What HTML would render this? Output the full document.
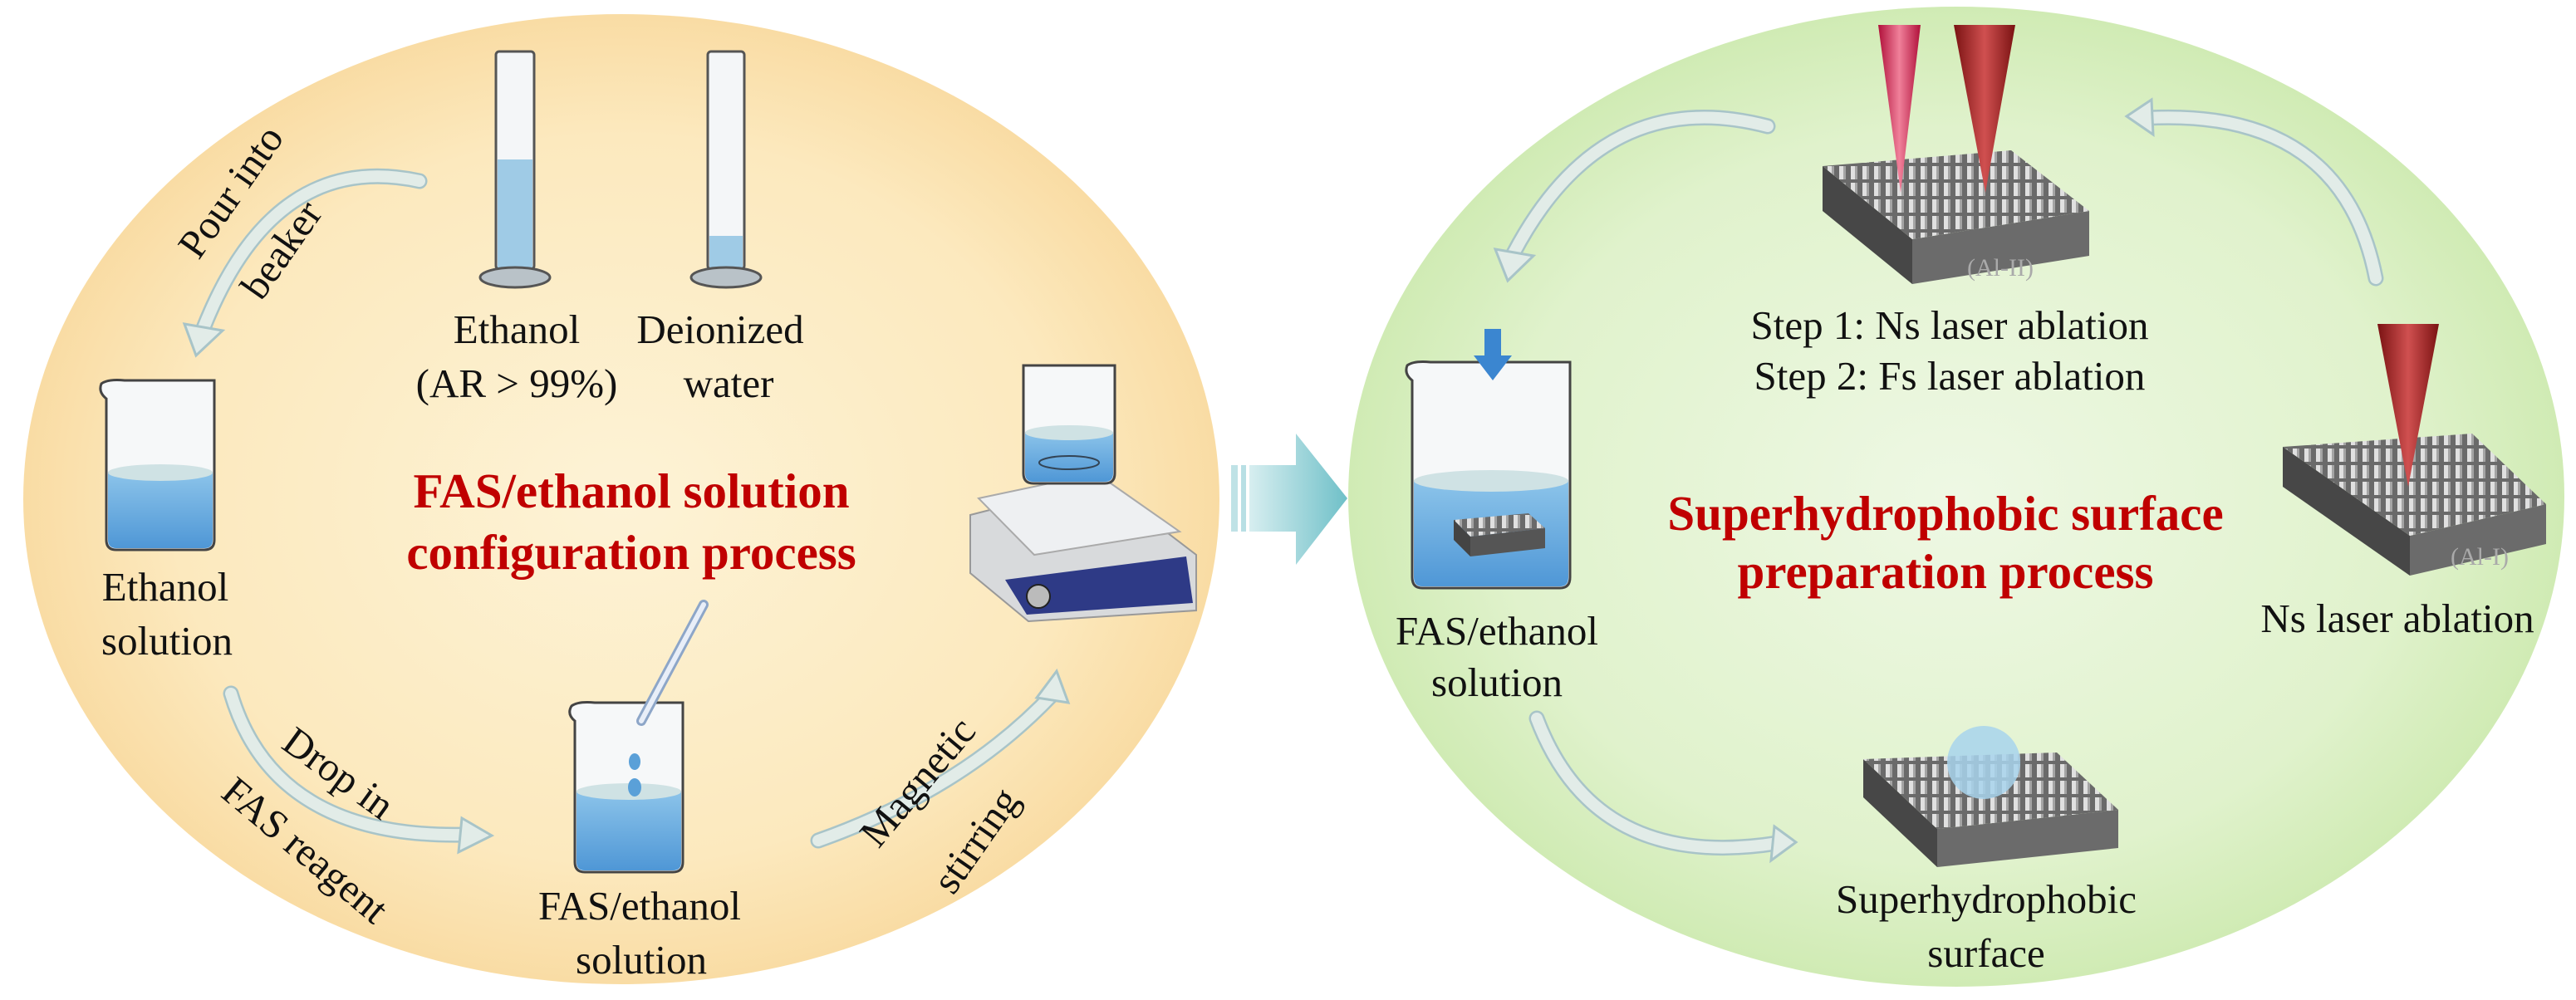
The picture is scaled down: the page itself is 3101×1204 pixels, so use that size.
<!DOCTYPE html>
<html><head><meta charset="utf-8"><style>
html,body{margin:0;padding:0;background:#fff;}
svg{display:block;}
text{font-family:"Liberation Serif",serif;}
</style></head><body>
<svg width="3101" height="1204" viewBox="0 0 3101 1204" xmlns="http://www.w3.org/2000/svg">
<defs>
<radialGradient id="gl" cx="0.5" cy="0.5" r="0.5">
<stop offset="0" stop-color="#fdf3d6"/><stop offset="0.75" stop-color="#fce9be"/><stop offset="1" stop-color="#f9dca4"/>
</radialGradient>
<radialGradient id="gr" cx="0.5" cy="0.5" r="0.5">
<stop offset="0" stop-color="#eef8e4"/><stop offset="0.75" stop-color="#e0f2cc"/><stop offset="1" stop-color="#d0ebb4"/>
</radialGradient>
<linearGradient id="ga" x1="0" y1="0" x2="1" y2="0">
<stop offset="0" stop-color="#d7eef0"/><stop offset="1" stop-color="#6fc0c8"/>
</linearGradient>
<linearGradient id="liq" x1="0" y1="0" x2="0" y2="1">
<stop offset="0" stop-color="#8cc4ea"/><stop offset="1" stop-color="#4f97d6"/>
</linearGradient>
<linearGradient id="laserR" x1="0" y1="0" x2="1" y2="0">
<stop offset="0" stop-color="#7a1212"/><stop offset="0.5" stop-color="#d05050"/><stop offset="1" stop-color="#7a1212"/>
</linearGradient>
<linearGradient id="laserP" x1="0" y1="0" x2="1" y2="0">
<stop offset="0" stop-color="#b0103a"/><stop offset="0.5" stop-color="#f0809a"/><stop offset="1" stop-color="#b0103a"/>
</linearGradient>
<pattern id="pil" width="14" height="20" patternUnits="userSpaceOnUse">
<rect width="14" height="20" fill="#6a6a6a"/>
<rect x="2" y="0" width="5" height="16" fill="#e0e0e0"/>
<rect x="7" y="0" width="3" height="16" fill="#a4a4a4"/>
</pattern>
</defs>

<ellipse cx="748" cy="601" rx="720" ry="584" fill="url(#gl)"/>
<ellipse cx="2355" cy="598" rx="732" ry="590" fill="url(#gr)"/>

<!-- center arrow -->
<g>
<rect x="1482" y="560" width="8" height="80" fill="#bfe2e6"/>
<rect x="1494" y="560" width="6" height="80" fill="#b8dfe4"/>
<polygon points="1504,560 1560,560 1560,522 1622,600 1560,680 1560,640 1504,640" fill="url(#ga)"/>
</g>

<!-- curved arrows -->
<g fill="none" stroke-linecap="round">
<g stroke="#a8c4c8" stroke-width="19">
<path d="M505,218 Q330,180 245,395"/>
<path d="M278,835 Q330,1010 560,1005"/>
<path d="M985,1012 Q1160,950 1268,835"/>
<path d="M2128,152 Q1930,100 1822,305"/>
<path d="M2860,335 Q2820,130 2585,142"/>
<path d="M1850,865 Q1920,1050 2140,1015"/>
</g>
<g stroke="#e2ece8" stroke-width="14">
<path d="M505,218 Q330,180 245,395"/>
<path d="M278,835 Q330,1010 560,1005"/>
<path d="M985,1012 Q1160,950 1268,835"/>
<path d="M2128,152 Q1930,100 1822,305"/>
<path d="M2860,335 Q2820,130 2585,142"/>
<path d="M1850,865 Q1920,1050 2140,1015"/>
</g>
</g>
<g fill="#e2ece8" stroke="#a8c4c8" stroke-width="3">
<polygon points="222,390 268,398 236,428"/>
<polygon points="556,985 592,1006 552,1026"/>
<polygon points="1248,840 1272,808 1286,846"/>
<polygon points="1800,300 1846,308 1815,338"/>
<polygon points="2590,120 2560,140 2592,162"/>
<polygon points="2136,995 2162,1014 2132,1036"/>
</g>

<!-- graduated cylinders -->
<g stroke="#555" stroke-width="3">
<rect x="597" y="62" width="46" height="262" rx="4" fill="#f4f6f8"/>
<rect x="599" y="192" width="42" height="130" fill="#9fcbe6" stroke="none"/>
<ellipse cx="620" cy="334" rx="42" ry="12" fill="#b9c2c8"/>
<rect x="852" y="62" width="44" height="262" rx="4" fill="#f4f6f8"/>
<rect x="854" y="284" width="40" height="38" fill="#9fcbe6" stroke="none"/>
<ellipse cx="874" cy="334" rx="42" ry="12" fill="#b9c2c8"/>
</g>

<!-- beakers left -->
<g stroke="#444" stroke-width="3">
<path d="M122,462 Q130,456 150,458 L258,458 L258,650 Q258,662 246,662 L140,662 Q128,662 128,650 L128,480 Q118,472 122,462Z" fill="#f6f8f9"/>
<path d="M130,568 L256,568 L256,650 Q256,660 246,660 L140,660 Q130,660 130,650Z" fill="url(#liq)" stroke="none"/>
<ellipse cx="193" cy="569" rx="63" ry="10" fill="#cfe2e4" stroke="none"/>

<path d="M688,850 Q696,844 716,846 L822,846 L822,1038 Q822,1050 810,1050 L704,1050 Q692,1050 692,1038 L692,868 Q682,860 688,850Z" fill="#f6f8f9"/>
<path d="M694,952 L820,952 L820,1038 Q820,1048 810,1048 L704,1048 Q694,1048 694,1038Z" fill="url(#liq)" stroke="none"/>
<ellipse cx="757" cy="953" rx="63" ry="10" fill="#cfe2e4" stroke="none"/>
</g>
<line x1="847" y1="728" x2="772" y2="868" stroke="#8da6c8" stroke-width="12" stroke-linecap="round"/>
<line x1="847" y1="728" x2="772" y2="868" stroke="#e8eef8" stroke-width="6" stroke-linecap="round"/>
<ellipse cx="764" cy="917" rx="7" ry="10" fill="#5aa0d8"/>
<ellipse cx="764" cy="948" rx="8" ry="11" fill="#5aa0d8"/>

<!-- stirrer -->
<g>
<polygon points="1168,620 1325,580 1440,668 1440,735 1238,748 1168,690" fill="#d8dadc" stroke="#999" stroke-width="2"/>
<polygon points="1178,600 1320,570 1420,640 1245,668" fill="#eef0f2" stroke="#aaa" stroke-width="2"/>
<polygon points="1210,698 1428,670 1436,726 1236,740" fill="#2e3a86"/>
<circle cx="1250" cy="718" r="14" fill="#bbb" stroke="#222" stroke-width="2"/>
<path d="M1232,440 L1342,440 L1342,570 Q1342,582 1330,582 L1244,582 Q1232,582 1232,570Z" fill="#f6f8f9" stroke="#444" stroke-width="3"/>
<path d="M1234,520 L1340,520 L1340,570 Q1340,580 1330,580 L1244,580 Q1234,580 1234,570Z" fill="url(#liq)"/>
<ellipse cx="1287" cy="521" rx="53" ry="9" fill="#cfe2e4"/>
<ellipse cx="1287" cy="557" rx="36" ry="8" fill="none" stroke="#345" stroke-width="2"/>
</g>

<!-- right: beaker -->
<g stroke="#444" stroke-width="3">
<path d="M1694,440 Q1702,434 1722,436 L1890,436 L1890,695 Q1890,708 1878,708 L1712,708 Q1700,708 1700,695 L1700,458 Q1690,450 1694,440Z" fill="#f6f8f9"/>
<path d="M1702,578 L1888,578 L1888,695 Q1888,706 1878,706 L1712,706 Q1702,706 1702,695Z" fill="url(#liq)" stroke="none"/>
<ellipse cx="1795" cy="579" rx="93" ry="13" fill="#cfe2e4" stroke="none"/>
</g>
<polygon points="1750,626 1840,618 1860,636 1770,646" fill="url(#pil)"/>
<polygon points="1770,646 1860,636 1860,660 1770,670" fill="#555"/>
<polygon points="1750,626 1770,646 1770,670 1750,650" fill="#444"/>
<polygon points="1787,396 1807,396 1807,428 1820,428 1797,458 1774,428 1787,428" fill="#3b86d0"/>

<!-- sample Al-II -->
<g>
<polygon points="2194,200 2302,288 2302,342 2194,254" fill="#474747"/>
<polygon points="2302,288 2515,254 2515,308 2302,342" fill="#6b6b6b"/>
<polygon points="2194,200 2421,181 2515,254 2302,288" fill="url(#pil)"/>
<text x="2408" y="332" font-size="30" fill="#aaa" text-anchor="middle">(Al-II)</text>
</g>
<polygon points="2261,30 2312,30 2288,232" fill="url(#laserP)"/>
<polygon points="2352,30 2426,30 2390,232" fill="url(#laserR)"/>

<!-- sample Al-I -->
<g>
<polygon points="2748,538 2901,645 2901,693 2748,586" fill="#474747"/>
<polygon points="2901,645 3065,607 3065,655 2901,693" fill="#6b6b6b"/>
<polygon points="2748,538 2976,522 3065,607 2901,645" fill="url(#pil)"/>
<text x="2985" y="680" font-size="30" fill="#aaa" text-anchor="middle">(Al-I)</text>
</g>
<polygon points="2862,390 2936,390 2899,586" fill="url(#laserR)"/>

<!-- superhydrophobic surface -->
<g>
<polygon points="2243,914 2332,998 2332,1044 2243,960" fill="#474747"/>
<polygon points="2332,998 2550,975 2550,1021 2332,1044" fill="#6b6b6b"/>
<polygon points="2243,914 2476,906 2550,975 2332,998" fill="url(#pil)"/>
<circle cx="2388" cy="918" r="44" fill="#a8d4ec" opacity="0.85"/>
</g>

<!-- texts -->
<g font-size="49" fill="#111" text-anchor="middle">
<text x="622" y="413">Ethanol</text>
<text x="622" y="478">(AR &gt; 99%)</text>
<text x="867" y="413">Deionized</text>
<text x="877" y="478">water</text>
<text x="199" y="723">Ethanol</text>
<text x="201" y="788">solution</text>
<text x="770" y="1107">FAS/ethanol</text>
<text x="772" y="1172">solution</text>
<text transform="translate(291,240) rotate(-55)">Pour into</text>
<text transform="translate(352,310) rotate(-55)">beaker</text>
<text transform="translate(398,944) rotate(36)">Drop in</text>
<text transform="translate(357,1036) rotate(40)">FAS reagent</text>
<text transform="translate(1117,952) rotate(-50)">Magnetic</text>
<text transform="translate(1188,1021) rotate(-55)">stirring</text>

<text x="2347" y="408">Step 1: Ns laser ablation</text>
<text x="2347" y="469">Step 2: Fs laser ablation</text>
<text x="1802" y="776">FAS/ethanol</text>
<text x="1802" y="838">solution</text>
<text x="2886" y="761">Ns laser ablation</text>
<text x="2391" y="1099">Superhydrophobic</text>
<text x="2391" y="1164">surface</text>
</g>
<g font-size="59" font-weight="bold" fill="#c00000" text-anchor="middle">
<text x="760" y="611">FAS/ethanol solution</text>
<text x="760" y="685">configuration process</text>
<text x="2342" y="638">Superhydrophobic surface</text>
<text x="2342" y="708">preparation process</text>
</g>
</svg>
</body></html>
